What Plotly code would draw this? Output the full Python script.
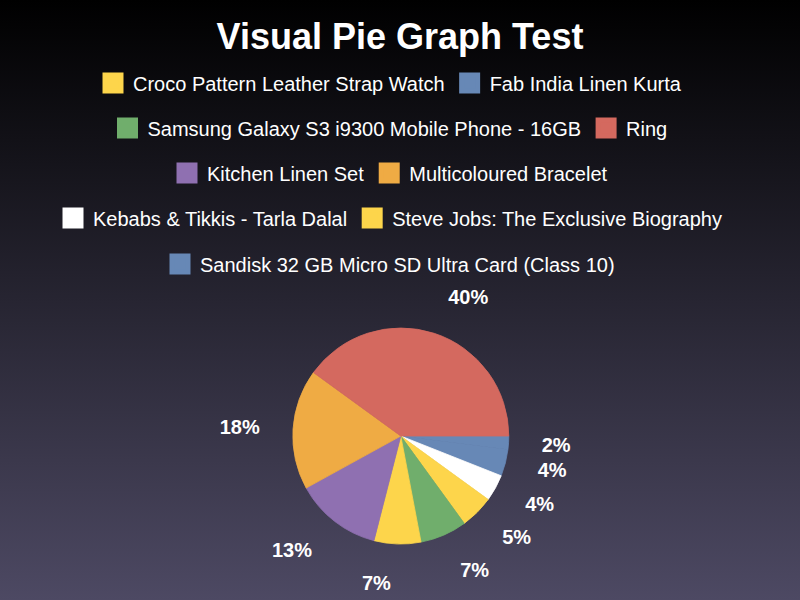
import base64
import plotly.graph_objects as go

# ---- data ----
labels = [
    "Croco Pattern Leather Strap Watch",
    "Fab India Linen Kurta",
    "Samsung Galaxy S3 i9300 Mobile Phone - 16GB",
    "Ring",
    "Kitchen Linen Set",
    "Multicoloured Bracelet",
    "Kebabs & Tikkis - Tarla Dalal",
    "Steve Jobs: The Exclusive Biography",
    "Sandisk 32 GB Micro SD Ultra Card (Class 10)",
]
values = [5, 2, 7, 40, 13, 18, 4, 7, 4]
colors = ["#fdd54b", "#6788b6", "#70ae6c", "#d4695f", "#8f70b1",
          "#efab44", "#ffffff", "#fdd54b", "#6788b6"]
# order in which the slices are laid out (ascending size), clockwise from 3 o'clock
slice_order = [1, 8, 6, 0, 2, 7, 4, 5, 3]
# legend rows
legend_rows = [[0, 1], [2, 3], [4, 5], [6, 7], [8]]

pie_labels = [labels[i] for i in slice_order]
pie_values = [values[i] for i in slice_order]
pie_colors = [colors[i] for i in slice_order]

FONT = "Liberation Sans, Arial, Helvetica, sans-serif"

fig = go.Figure()

# visible pie
fig.add_trace(go.Pie(
    labels=pie_labels, values=pie_values, sort=False,
    direction="clockwise", rotation=90,
    marker=dict(colors=pie_colors, line=dict(width=0.8, color=pie_colors)),
    textinfo="none", hoverinfo="label+percent", showlegend=False,
    domain=dict(x=[0.366, 0.636], y=[0.0933, 0.4533]),
))

# transparent pie carrying the outside percentage labels
fig.add_trace(go.Pie(
    labels=pie_labels, values=pie_values, sort=False,
    direction="clockwise", rotation=90,
    marker=dict(colors=["rgba(0,0,0,0)"] * len(pie_values), line=dict(width=0)),
    textposition="outside", texttemplate="%{percent:.0%}",
    textfont=dict(family=FONT, size=20, color="white", weight="bold"),
    hoverinfo="skip", showlegend=False,
    domain=dict(x=[0.501 - 0.1695, 0.501 + 0.1695], y=[0.2733 - 0.226, 0.2733 + 0.226]),
))

# legend entries (one legend per centered row)
row_y = [1 - 83 / 600, 1 - 128 / 600, 1 - 173 / 600, 1 - 218 / 600, 1 - 264 / 600]
for r, row in enumerate(legend_rows):
    lname = "legend" if r == 0 else f"legend{r + 1}"
    for i in row:
        fig.add_trace(go.Scatter(
            x=[None], y=[None], mode="markers", name=labels[i],
            marker=dict(symbol="square", size=16, color=colors[i],
                        line=dict(width=5, color=colors[i])),
            legend=lname, showlegend=True,
        ))

legend_common = dict(orientation="h", xanchor="center", x=0.4875, yanchor="middle",
                     bgcolor="rgba(0,0,0,0)",
                     font=dict(family=FONT, size=20, color="white"))
legends = {}
for r in range(len(legend_rows)):
    key = "legend" if r == 0 else f"legend{r + 1}"
    legends[key] = dict(legend_common, y=row_y[r])

svg = ('<svg xmlns="http://www.w3.org/2000/svg" width="800" height="600" '
       'preserveAspectRatio="none"><defs><linearGradient id="g" x1="0" y1="0" '
       'x2="0" y2="1"><stop offset="0" stop-color="#000000"/>'
       '<stop offset="1" stop-color="#4d4963"/></linearGradient></defs>'
       '<rect width="800" height="600" fill="url(#g)"/></svg>')
bg = "data:image/svg+xml;base64," + base64.b64encode(svg.encode()).decode()

fig.update_layout(
    width=800, height=600,
    margin=dict(l=0, r=0, t=0, b=0),
    paper_bgcolor="#25232f", plot_bgcolor="rgba(0,0,0,0)",
    title=dict(text="<b>Visual Pie Graph Test</b>", x=0.5, xanchor="center",
               y=1 - 36 / 600, yanchor="middle",
               font=dict(family=FONT, size=36, color="white")),
    xaxis=dict(visible=False), yaxis=dict(visible=False),
    images=[dict(source=bg, xref="paper", yref="paper", x=0, y=1,
                 sizex=1, sizey=1, sizing="stretch", layer="below",
                 xanchor="left", yanchor="top")],
    **legends,
)

fig.write_html("out.html")
